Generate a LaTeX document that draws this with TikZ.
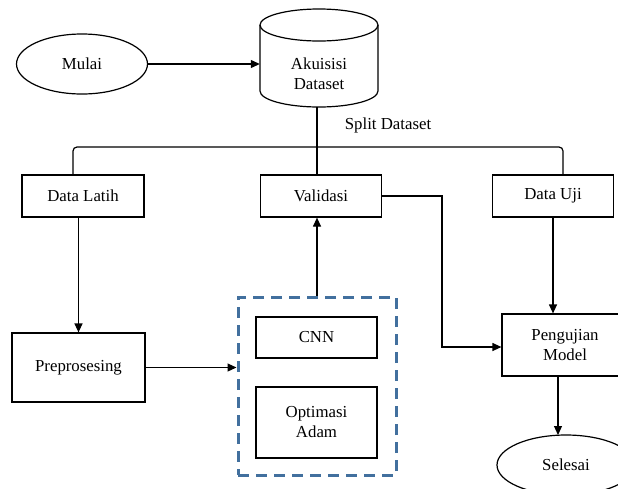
\documentclass[tikz,border=0pt]{standalone}
\usepackage{fontspec}
\setmainfont{Liberation Serif}
\usetikzlibrary{shapes.geometric,arrows.meta,calc}
\definecolor{grpblue}{RGB}{66,112,158}
\tikzset{
  every node/.style={font=\fontsize{16.8}{20}\selectfont},
  ln/.style={line width=1.2pt, draw=black},
  arr/.style={ln, -{Triangle[length=9pt,width=8pt]}},
  boxn/.style={draw, line width=1.2pt, rectangle, inner sep=0pt, align=center},
  ell/.style={draw, line width=1.2pt, ellipse, inner sep=0pt},
  grp/.style={draw=grpblue, line width=3pt, dash pattern=on 11pt off 7pt, rectangle, inner sep=0pt}
}
\begin{document}
\begin{tikzpicture}[x=1pt,y=-1pt]
\useasboundingbox (0,0) rectangle (618,488);
% start
\node[ell, minimum width=131, minimum height=60] (mulai) at (82,64) {Mulai};
% cylinder
\node[inner sep=0, minimum width=118, minimum height=98] (cyl) at (319,58) {};
\draw[ln] (319,25) ellipse [x radius=59, y radius=16];
\draw[ln] (260,25) -- (260,91) arc[start angle=180, end angle=0, x radius=59, y radius=16] -- (378,25);
\node[align=center] (akuisisi) at (319,74) {Akuisisi\\Dataset};
\draw[arr] (mulai.east) -- (mulai.east -| cyl.west);
% split level
\node[boxn, minimum width=122, minimum height=42] (latih) at (83,196) {Data Latih};
\node[boxn, minimum width=121, minimum height=42] (validasi) at (321,196) {Validasi};
\node[boxn, minimum width=121, minimum height=42] (uji) at (553,196) {Data Uji};
\node (split) at (388,125) {Split Dataset};
\coordinate (sl) at (73,147);
\coordinate (sr) at (563,147);
\draw[ln] (317,107) -- (317,175);
\draw[ln, rounded corners=4pt] (sl |- latih.north) |- (sr) -- (sr |- uji.north);
% lower
\node[boxn, minimum width=133, minimum height=69] (prep) at (78.5,367.5) {Preprosesing};
\node[grp, minimum width=158, minimum height=178] (group) at (317,386) {};
\node[boxn, minimum width=121, minimum height=41] (cnn) at (316.5,337.5) {CNN};
\node[boxn, minimum width=121, minimum height=71] (adam) at (316.5,422.5) {Optimasi\\Adam};
\node[boxn, minimum width=126, minimum height=62] (uji2) at (565,345) {Pengujian\\Model};
\node[ell, minimum width=138, minimum height=60] (selesai) at (566,465) {Selesai};
% connectors
\draw[arr] (prep.north |- latih.south) -- (prep.north);
\draw[arr] (prep.east) -- (prep.east -| group.west);
\draw[arr] (group.north) -- (group.north |- validasi.south);
\coordinate (vb) at (442,347);
\draw[arr] (validasi.east) -| (vb) -- (vb -| uji2.west);
\draw[arr] (uji.south) -- (uji.south |- uji2.north);
\coordinate (sd) at (558,435);
\draw[arr] (sd |- uji2.south) -- (sd);
\end{tikzpicture}
\end{document}
